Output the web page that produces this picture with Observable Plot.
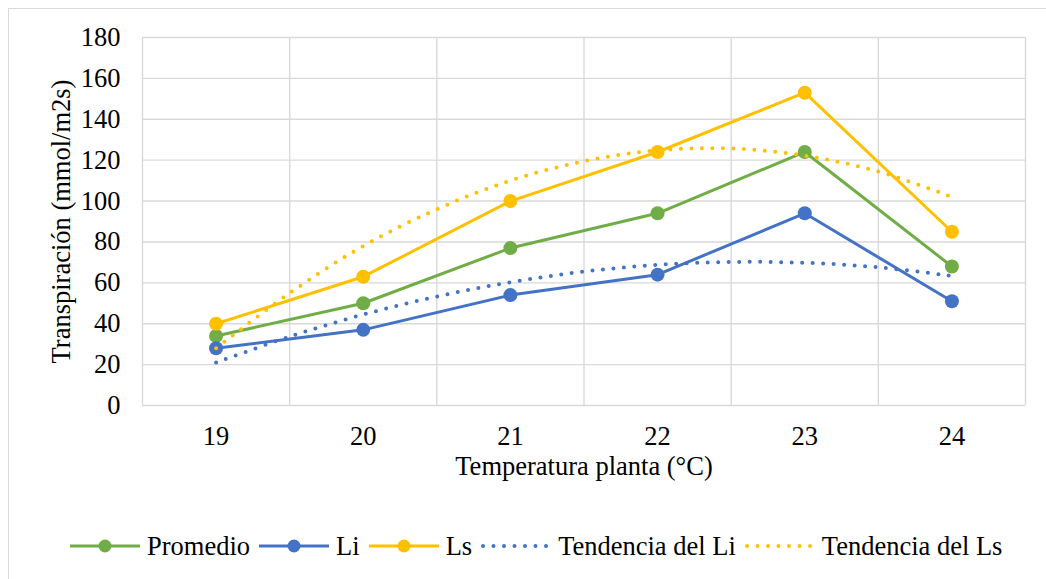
<!DOCTYPE html>
<html>
<head>
<meta charset="utf-8">
<script src="https://cdn.jsdelivr.net/npm/d3@7"></script>
<script src="https://cdn.jsdelivr.net/npm/@observablehq/plot@0.6"></script>
<style>
  html, body { margin: 0; padding: 0; background: #fff; }
  body { width: 1046px; height: 579px; position: relative; overflow: hidden; font-family: "Liberation Serif", serif; }
  #frame { position: absolute; left: 8px; top: 8px; width: 1100px; height: 640px; border: 1.5px solid #d9d9d9; box-sizing: border-box; }
  #chart { position: absolute; left: 0; top: 0; }
  #legend { position: absolute; left: 70px; top: 531px; height: 30px; display: flex; align-items: center; font-size: 26.5px; color: #000; white-space: nowrap; }
  #legend .item { display: flex; align-items: center; margin-right: 9px; }
  #legend svg { margin-right: 7px; }
</style>
</head>
<body>
<div id="frame"></div>
<div id="chart"></div>
<div id="legend"></div>
<script>
// Plant temperature categories (°C)
const temperatures = [19, 20, 21, 22, 23, 24];
// Transpiration (mmol/m2s) per series
const promedio = [34, 50, 77, 94, 124, 68];
const li = [28, 37, 54, 64, 94, 51];
const ls = [40, 63, 100, 124, 153, 85];
// Trend curves, read at half-degree steps
const trendTemps = [19, 19.5, 20, 20.5, 21, 21.5, 22, 22.5, 23, 23.5, 24];
const trendLi = [21, 33.7, 44.5, 53.3, 60.3, 65.5, 68.8, 70.2, 69.8, 67.6, 63.4];
const trendLs = [28, 55, 78, 96, 110, 119.5, 124.8, 125.7, 122.2, 114.4, 102];
const yTicks = [0, 20, 40, 60, 80, 100, 120, 140, 160, 180];

const colors = { Promedio: "#70AD47", Li: "#4472C4", Ls: "#FFC000" };
const gridColor = "#d9d9d9";

const rows = (name, values) => temperatures.map((t, i) => ({ t, v: values[i], name }));
const series = [rows("Promedio", promedio), rows("Li", li), rows("Ls", ls)];
const trends = [
  { name: "Li", data: trendTemps.map((t, i) => ({ t, v: trendLi[i] })) },
  { name: "Ls", data: trendTemps.map((t, i) => ({ t, v: trendLs[i] })) }
];

// category boundaries for the vertical grid
const bounds = [temperatures[0] - 0.5, ...temperatures.map(t => t + 0.5)];

const marks = [
  Plot.gridY(yTicks, { stroke: gridColor, strokeOpacity: 1, strokeWidth: 1.4 }),
  Plot.ruleX(bounds, { stroke: gridColor, strokeWidth: 1.4 }),
  Plot.axisY(yTicks, { tickSize: 0, tickPadding: 22, label: null }),
  Plot.axisX(temperatures, { tickSize: 0, tickPadding: 21, label: null, tickFormat: d3.format("d") }),
  Plot.text(["Transpiración (mmol/m2s)"], { frameAnchor: "left", textAnchor: "middle", dx: -81, rotate: -90, fill: "#000" }),
  Plot.text(["Temperatura planta (°C)"], { frameAnchor: "bottom", textAnchor: "middle", dy: 69, fill: "#000" })
];
for (const s of series) {
  marks.push(Plot.line(s, { x: "t", y: "v", stroke: colors[s[0].name], strokeWidth: 3 }));
  marks.push(Plot.dot(s, { x: "t", y: "v", r: 7, fill: colors[s[0].name], stroke: "none" }));
}
for (const tr of trends) {
  marks.push(Plot.line(tr.data, {
    x: "t", y: "v", curve: "catmull-rom", stroke: colors[tr.name],
    strokeWidth: 4, strokeLinecap: "round", strokeDasharray: "0 10.5"
  }));
}

const chart = Plot.plot({
  width: 1046,
  height: 500,
  marginLeft: 142,
  marginRight: 21,
  marginTop: 37,
  marginBottom: 95,
  style: { fontFamily: "'Liberation Serif', serif", fontSize: "26.5px", color: "#000", background: "transparent", overflow: "visible" },
  x: { type: "linear", domain: [18.5, 24.5] },
  y: { domain: [0, 180] },
  marks
});
document.getElementById("chart").appendChild(chart);

// Legend
const legendItems = [
  { label: "Promedio", color: colors.Promedio, dotted: false },
  { label: "Li", color: colors.Li, dotted: false },
  { label: "Ls", color: colors.Ls, dotted: false },
  { label: "Tendencia del Li", color: colors.Li, dotted: true },
  { label: "Tendencia del Ls", color: colors.Ls, dotted: true }
];
const legend = d3.select("#legend");
for (const it of legendItems) {
  const item = legend.append("div").attr("class", "item");
  const svg = item.append("svg").attr("width", 70).attr("height", 16);
  if (it.dotted) {
    svg.append("line").attr("x1", 2).attr("x2", 68).attr("y1", 8).attr("y2", 8)
      .attr("stroke", it.color).attr("stroke-width", 4).attr("stroke-linecap", "round")
      .attr("stroke-dasharray", "0 10.5");
  } else {
    svg.append("line").attr("x1", 0).attr("x2", 70).attr("y1", 8).attr("y2", 8)
      .attr("stroke", it.color).attr("stroke-width", 3);
    svg.append("circle").attr("cx", 35).attr("cy", 8).attr("r", 6.5).attr("fill", it.color);
  }
  item.append("span").text(it.label);
}
</script>
</body>
</html>
